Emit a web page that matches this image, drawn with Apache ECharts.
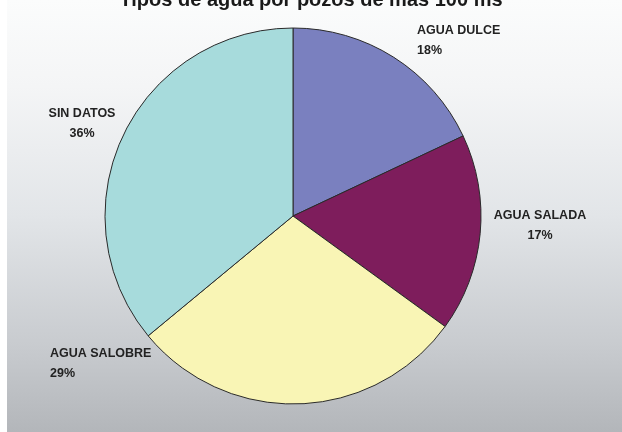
<!DOCTYPE html>
<html><head><meta charset="utf-8">
<script src="https://cdn.jsdelivr.net/npm/echarts@6/dist/echarts.min.js"></script>
<style>html,body{margin:0;padding:0;background:#fff}#c{width:622px;height:432px}</style>
</head><body><div id="c"></div>
<script>
var titleText = 'Tipos de agua por pozos de más 100 ms';
var categories = ['AGUA DULCE', 'AGUA SALADA', 'AGUA SALOBRE', 'SIN DATOS'];
var percents = [18, 17, 29, 36];
var colors = ['#7a80bf', '#7e1d5c', '#f9f5b5', '#a7dbdc'];
var labelPos = [[417, 21, 'left'], [540, 206, 'center'], [50, 344, 'left'], [82, 104, 'center']];

var chart = echarts.init(document.getElementById('c'), null, {renderer: 'canvas'});
chart.setOption({
  backgroundColor: '#ffffff',
  graphic: [{
    type: 'rect', z: -10, silent: true,
    shape: {x: 7, y: 0, width: 615, height: 432},
    style: {fill: {type: 'linear', x: 0, y: 0, x2: 0, y2: 1, colorStops: [
      {offset: 0, color: '#fbfcfc'}, {offset: 0.2, color: '#f4f5f6'}, {offset: 0.5, color: '#e2e5e8'},
      {offset: 0.8, color: '#c8cbcf'}, {offset: 1, color: '#b3b6ba'}]}}
  }],
  title: {
    text: titleText, left: 'center', top: -15,
    textStyle: {fontFamily: 'Liberation Sans', fontWeight: 'bold', fontSize: 20, color: '#1a1a1a'}
  },
  series: [{
    type: 'pie',
    center: [293, 216], radius: 188,
    startAngle: 90, clockwise: true,
    animation: false,
    data: categories.map(function (c, i) {
      return {name: c, value: percents[i], itemStyle: {color: colors[i]}};
    }),
    itemStyle: {borderColor: '#2a2a2a', borderWidth: 1},
    label: {
      show: true, position: 'outside',
      formatter: function (p) { return p.name + '\n' + p.value + '%'; },
      fontFamily: 'Liberation Sans', fontWeight: 'bold', fontSize: 12.5, lineHeight: 20,
      color: '#222', overflow: 'none', width: 200
    },
    labelLine: {show: false},
    labelLayout: function (p) {
      var lp = labelPos[p.dataIndex];
      return {x: lp[0], y: lp[1], align: lp[2], verticalAlign: 'top'};
    },
    emphasis: {disabled: true}
  }]
});
</script></body></html>
